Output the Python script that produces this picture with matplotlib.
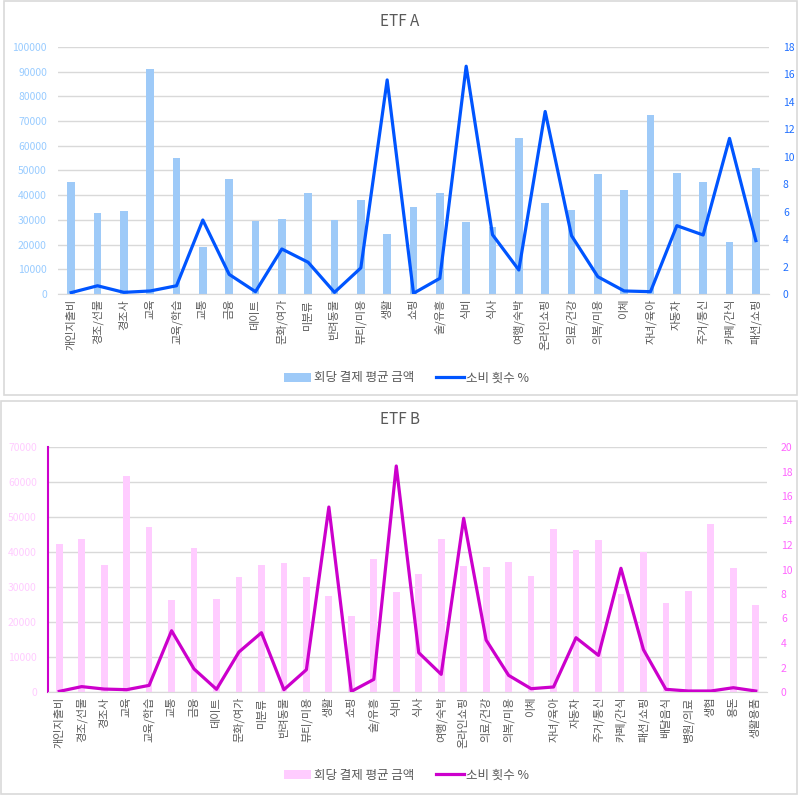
import matplotlib
matplotlib.use("Agg")
import matplotlib.pyplot as plt
import numpy as np
from matplotlib.patches import Rectangle

plt.rcParams['font.family'] = ['Noto Sans CJK KR', 'DejaVu Sans']

# ETF A
cat_a = ['개인지출비', '경조/선물', '경조사', '교육', '교육/학습', '교통', '금융', '데이트',
         '문화/여가', '미분류', '반려동물', '뷰티/미용', '생활', '쇼핑', '술/유흥', '식비',
         '식사', '여행/숙박', '온라인쇼핑', '의료/건강', '의복/미용', '이체', '자녀/육아',
         '자동차', '주거/통신', '카페/간식', '패션/쇼핑']
amt_a = [45200, 32700, 33600, 91100, 55100, 19200, 46400, 29700, 30400, 40800, 30100,
         38200, 24200, 35200, 40900, 29100, 27300, 63200, 37000, 33900, 48400, 42000,
         72300, 49000, 45300, 21100, 51000]
pct_a = [0.1, 0.6, 0.12, 0.22, 0.6, 5.39, 1.43, 0.17, 3.28, 2.31, 0.12, 1.9, 15.6,
         0.05, 1.14, 16.6, 4.32, 1.75, 13.3, 4.25, 1.26, 0.22, 0.17, 4.98, 4.3, 11.34, 3.89]

# ETF B
cat_b = cat_a + ['배달음식', '병원/의료', '생협', '용돈', '생활용품']
amt_b = [42300, 43700, 36400, 61600, 47200, 26400, 41200, 26700, 33000, 36200, 36900,
         33000, 27500, 21700, 38000, 28600, 33800, 43600, 35900, 35600, 37200, 33100,
         46500, 40700, 43400, 28100, 40000, 25400, 29000, 48100, 35300, 25000]
pct_b = [0.05, 0.44, 0.24, 0.19, 0.54, 5.0, 1.88, 0.22, 3.27, 4.84, 0.19, 1.82, 15.1,
         0.05, 1.03, 18.45, 3.21, 1.44, 14.18, 4.24, 1.36, 0.27, 0.41, 4.43, 2.99, 10.1,
         3.46, 0.22, 0.08, 0.08, 0.35, 0.08]

bar_label = '회당 결제 평균 금액'
line_label = '소비 횟수 %'

W, H = 800, 795
fig = plt.figure(figsize=(W / 100, H / 100), dpi=100)

# panel borders
fig.patches.append(Rectangle((4 / W, 1 - 395 / H), 793 / W, 394 / H, transform=fig.transFigure,
                             fill=False, edgecolor='#d9d9d9', linewidth=1.2))
fig.patches.append(Rectangle((1 / W, 1 - 794 / H), 796 / W, 393 / H, transform=fig.transFigure,
                             fill=False, edgecolor='#d9d9d9', linewidth=1.2))

grey = '#595959'


def panel(rect, cats, amts, pcts, ymax, ystep, rmax, bar_c, line_c, lcol, rcol, title,
          title_y, leg_y, left_spine=None):
    ax = fig.add_axes(rect)
    x = np.arange(len(cats))
    ax.bar(x, amts, width=0.3, color=bar_c, label=bar_label, zorder=2)
    ax.set_xlim(-0.5, len(cats) - 0.5)
    ax.set_ylim(0, ymax)
    ax.set_yticks(np.arange(0, ymax + 1, ystep))
    ax.yaxis.grid(True, color='#d9d9d9', linewidth=1, zorder=0)
    ax.set_axisbelow(True)
    ax.set_xticks(x)
    ax.set_xticklabels(cats, rotation=90, fontsize=8, color=grey, va='top')
    ax.tick_params(axis='both', length=0)
    ax.tick_params(axis='y', labelsize=7.5, labelcolor=lcol, pad=8)
    for s in ['top', 'right', 'left']:
        ax.spines[s].set_visible(False)
    ax.spines['bottom'].set_color('#d9d9d9')
    if left_spine:
        ax.spines['left'].set_visible(True)
        ax.spines['left'].set_color(left_spine)
        ax.spines['left'].set_linewidth(1.5)

    ax2 = ax.twinx()
    ax2.plot(x, pcts, color=line_c, linewidth=2.3, label=line_label, zorder=3)
    ax2.set_ylim(0, rmax)
    ax2.set_yticks(np.arange(0, rmax + 1, 2))
    ax2.tick_params(axis='y', length=0, labelsize=7.5, labelcolor=rcol, pad=10)
    for s in ax2.spines.values():
        s.set_visible(False)

    fig.text(0.5, title_y, title, ha='center', va='center', fontsize=11, color=grey)
    h1, l1 = ax.get_legend_handles_labels()
    h2, l2 = ax2.get_legend_handles_labels()
    fig.legend(h1 + h2, l1 + l2, loc='center', bbox_to_anchor=(0.508, leg_y), ncol=2,
               frameon=False, fontsize=9, labelcolor=grey, handlelength=2.2,
               handletextpad=0.2, columnspacing=1.8)
    return ax, ax2


panel([58 / W, 1 - 294 / H, 711 / W, 247 / H], cat_a, amt_a, pct_a, 100000, 10000, 18,
      '#9ecaf8', '#0055ff', '#99ccff', '#2070ff', 'ETF A', 1 - 22 / H, 1 - 378 / H)
panel([48 / W, 1 - 692 / H, 719 / W, 245 / H], cat_b, amt_b, pct_b, 70000, 10000, 20,
      '#ffccff', '#cc00cc', '#ffccff', '#ff66ff', 'ETF B', 1 - 420 / H, 1 - 775 / H,
      left_spine='#cc00cc')

fig.savefig('out.png', dpi=100)
